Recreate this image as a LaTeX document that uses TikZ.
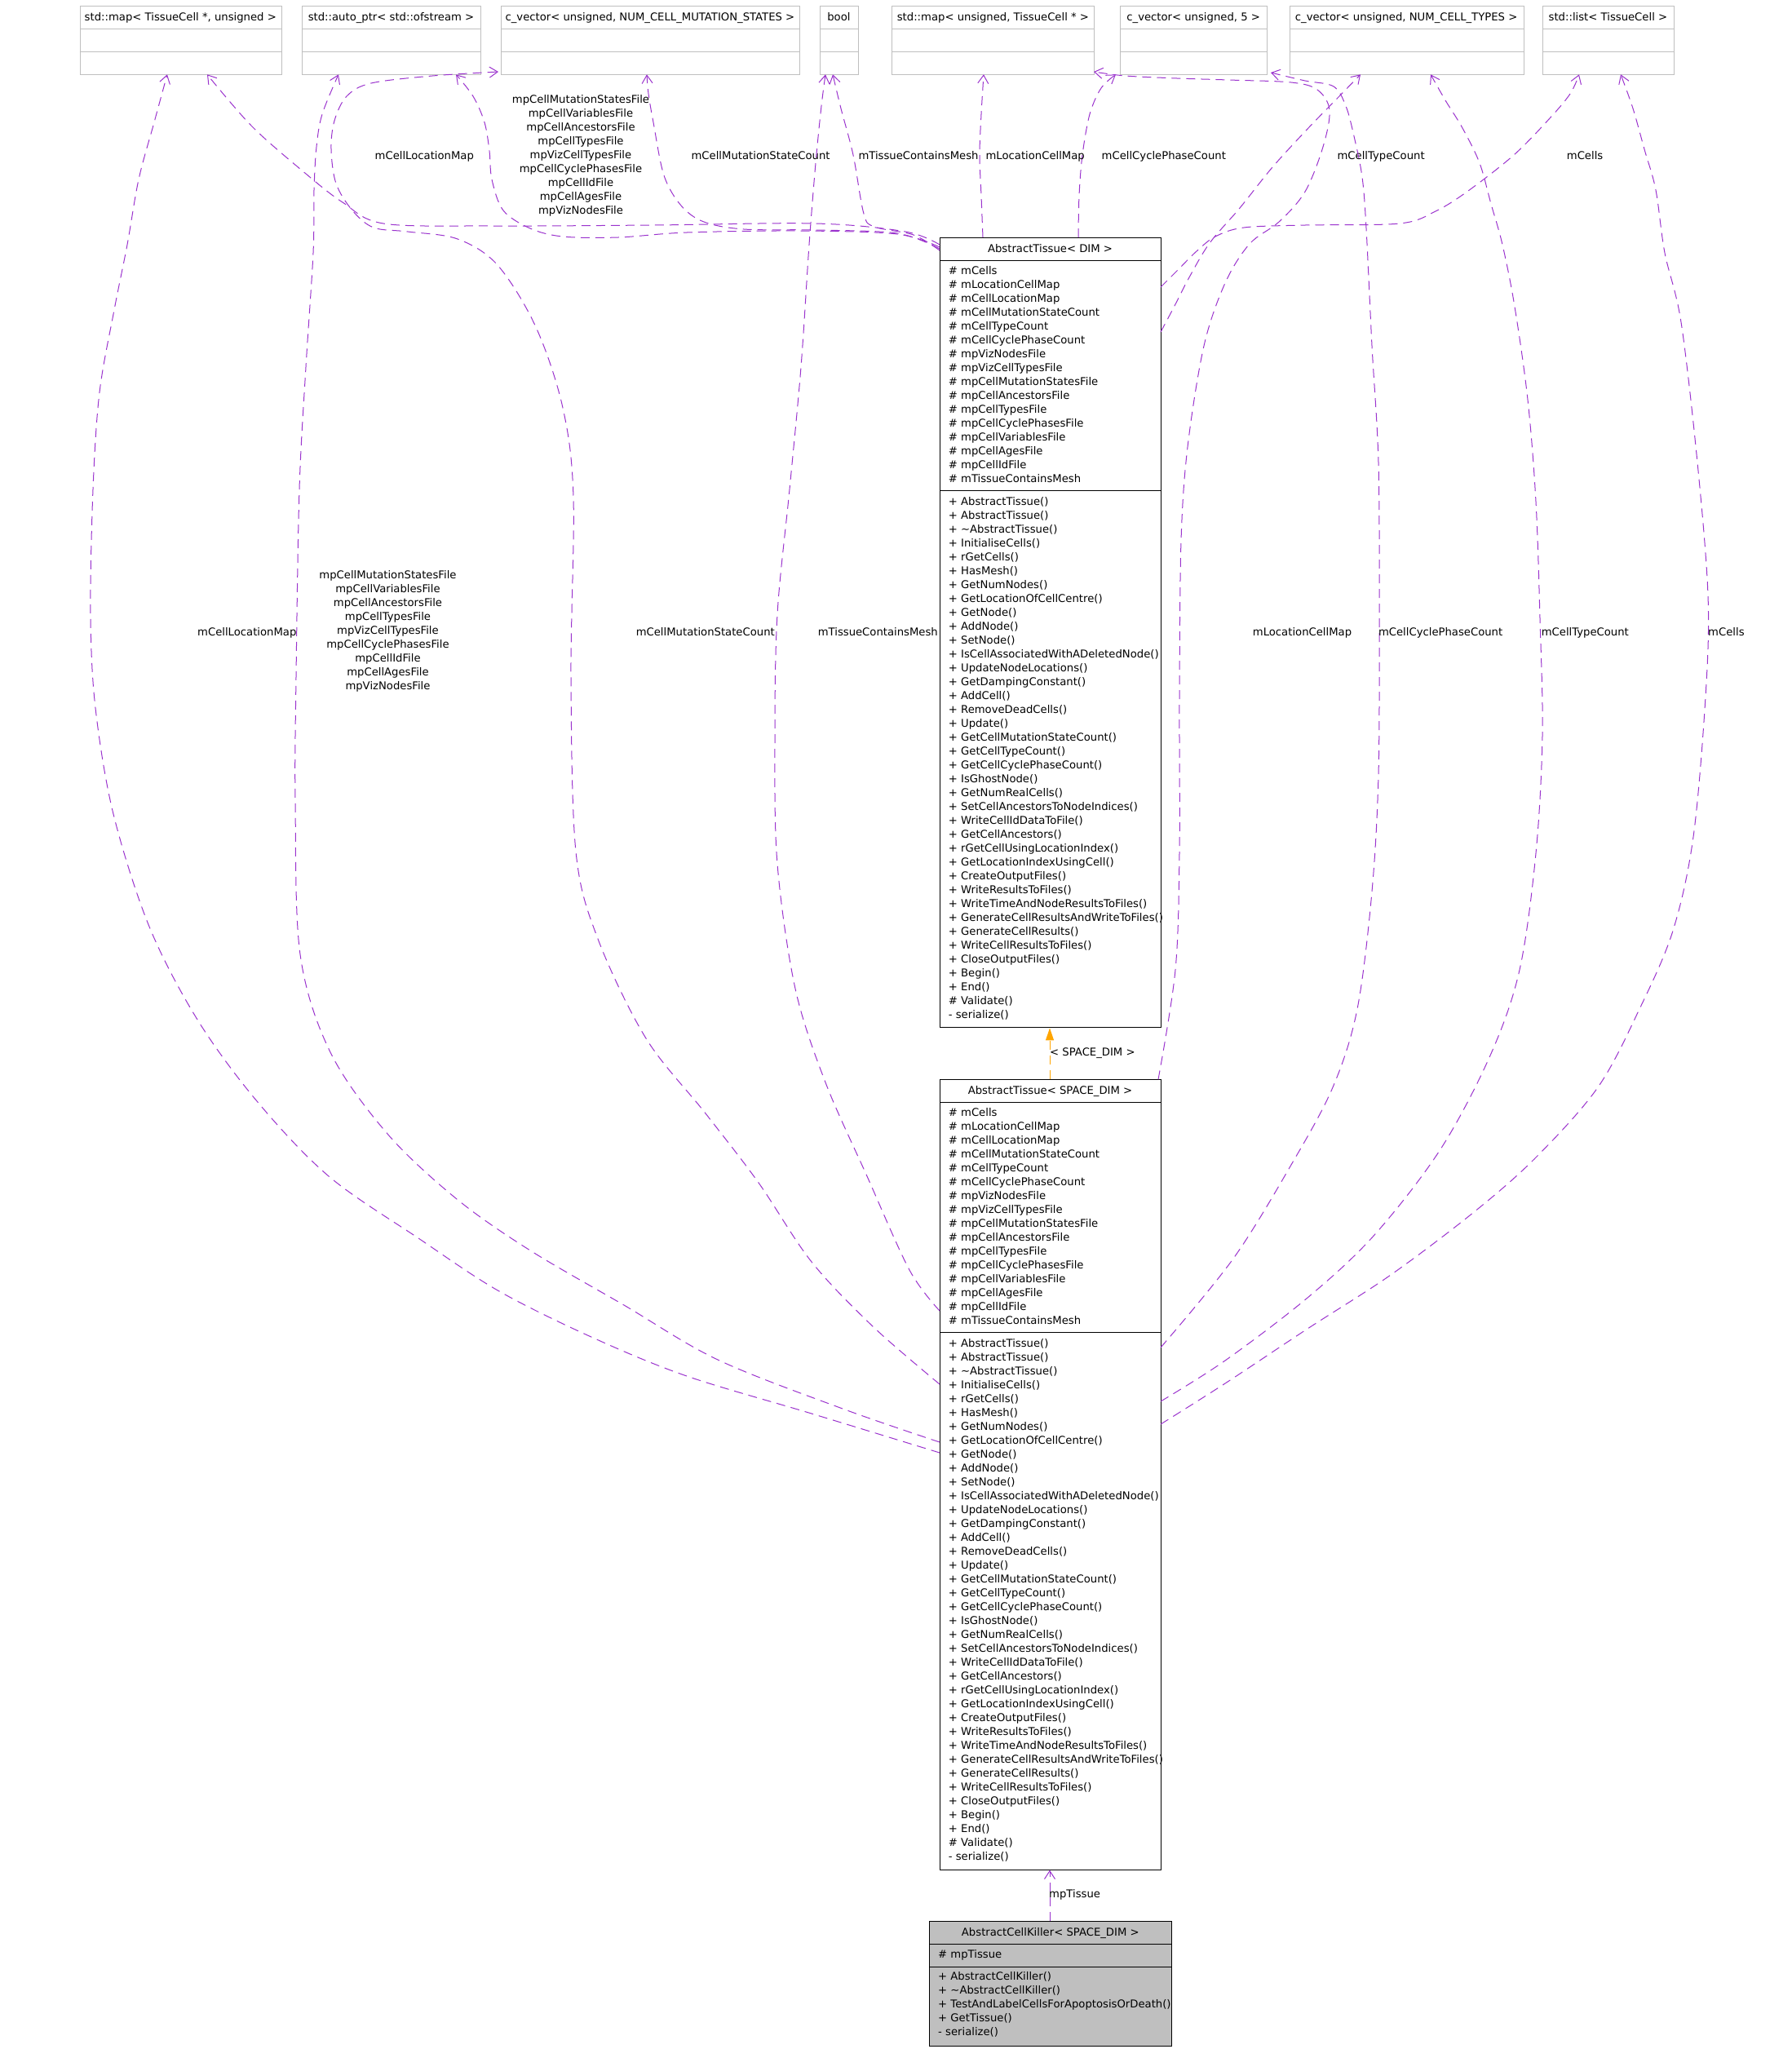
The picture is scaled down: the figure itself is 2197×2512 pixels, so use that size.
\documentclass[tikz,border=0pt]{standalone}
\usepackage{fontspec}
\setmainfont{DejaVu Sans}
\usetikzlibrary{arrows.meta,calc}
\definecolor{edgepurple}{HTML}{9A32CD}
\definecolor{inhorange}{HTML}{FFA500}
\definecolor{boxgray}{HTML}{BFBFBF}
\def\attrlist{\# mCells,\# mLocationCellMap,\# mCellLocationMap,\# mCellMutationStateCount,\# mCellTypeCount,\# mCellCyclePhaseCount,\# mpVizNodesFile,\# mpVizCellTypesFile,\# mpCellMutationStatesFile,\# mpCellAncestorsFile,\# mpCellTypesFile,\# mpCellCyclePhasesFile,\# mpCellVariablesFile,\# mpCellAgesFile,\# mpCellIdFile,\# mTissueContainsMesh}
\def\methlist{+ AbstractTissue(),+ AbstractTissue(),+ \textasciitilde AbstractTissue(),+ InitialiseCells(),+ rGetCells(),+ HasMesh(),+ GetNumNodes(),+ GetLocationOfCellCentre(),+ GetNode(),+ AddNode(),+ SetNode(),+ IsCellAssociatedWithADeletedNode(),+ UpdateNodeLocations(),+ GetDampingConstant(),+ AddCell(),+ RemoveDeadCells(),+ Update(),+ GetCellMutationStateCount(),+ GetCellTypeCount(),+ GetCellCyclePhaseCount(),+ IsGhostNode(),+ GetNumRealCells(),+ SetCellAncestorsToNodeIndices(),+ WriteCellIdDataToFile(),+ GetCellAncestors(),+ rGetCellUsingLocationIndex(),+ GetLocationIndexUsingCell(),+ CreateOutputFiles(),+ WriteResultsToFiles(),+ WriteTimeAndNodeResultsToFiles(),+ GenerateCellResultsAndWriteToFiles(),+ GenerateCellResults(),+ WriteCellResultsToFiles(),+ CloseOutputFiles(),+ Begin(),+ End(),\# Validate(),- serialize()}
\def\filelist{mpCellMutationStatesFile,mpCellVariablesFile,mpCellAncestorsFile,mpCellTypesFile,mpVizCellTypesFile,mpCellCyclePhasesFile,mpCellIdFile,mpCellAgesFile,mpVizNodesFile}
\begin{document}
\begin{tikzpicture}[x=1pt,y=-1pt,
  txt/.style={font=\fontsize{13.2}{17}\selectfont, inner sep=0pt, anchor=base west},
  ctxt/.style={font=\fontsize{13.2}{17}\selectfont, inner sep=0pt, anchor=base},
  extbox/.style={draw=boxgray, line width=1pt, inner sep=0pt, anchor=north west},
  clsbox/.style={draw=black, line width=1.1pt, inner sep=0pt, anchor=north west},
  divline/.style={line width=1.1pt},
  rel/.style={draw=edgepurple, line width=1pt, dash pattern=on 11pt off 7pt, -{Straight Barb[length=10pt,width=13pt]}},
  inh/.style={draw=inhorange, line width=1pt, dash pattern=on 11pt off 7pt, -{Triangle[length=15pt,width=10pt]}},
  sm/.style={smooth, tension=0.55}
]
\useasboundingbox (0,0) rectangle (2197,2512);

% ---------- top (external) boxes ----------
\foreach \n/\xl/\xr/\t in {
 t1/97.5/345.1/{std::map< TissueCell *, unsigned >},
 t2/369.7/589.3/{std::auto\_ptr< std::ofstream >},
 t3/613.8/980.0/{c\_vector< unsigned, NUM\_CELL\_MUTATION\_STATES >},
 t4/1004.6/1052.3/{bool},
 t5/1093.4/1341.4/{std::map< unsigned, TissueCell * >},
 t6/1372.9/1553.4/{c\_vector< unsigned, 5 >},
 t7/1580.7/1867.5/{c\_vector< unsigned, NUM\_CELL\_TYPES >},
 t8/1891.3/2051.5/{std::list< TissueCell >}}
{
  \node[extbox, minimum width={\xr-\xl}, minimum height=84] (\n) at (\xl,7.3) {};
  \draw[boxgray, line width=1pt] (\xl,35.3) -- (\xr,35.3);
  \draw[boxgray, line width=1pt] (\xl,63.3) -- (\xr,63.3);
  \node[ctxt] (\n t) at ({(\xl+\xr)/2},25.5) {\t};
}

% ---------- AbstractTissue< DIM > ----------
\node[clsbox, minimum width=271, minimum height=968.3] (dim) at (1152,291) {};
\draw[divline] (1152,319.3) -- (1423,319.3);
\draw[divline] (1152,601.3) -- (1423,601.3);
\node[ctxt] (dimt) at (1287.5,309.3) {AbstractTissue< DIM >};
\foreach \t [count=\i] in \attrlist
  \node[txt] (dima\i) at (1162.7,{336+(\i-1)*17}) {\t};
\foreach \t [count=\i] in \methlist
  \node[txt] (dimm\i) at (1162.7,{619.3+(\i-1)*17}) {\t};

% ---------- AbstractTissue< SPACE_DIM > ----------
\node[clsbox, minimum width=271, minimum height=968.3] (sd) at (1152,1323.3) {};
\draw[divline] (1152,1351.6) -- (1423,1351.6);
\draw[divline] (1152,1633.6) -- (1423,1633.6);
\node[ctxt] (sdt) at (1287.5,1341.6) {AbstractTissue< SPACE\_DIM >};
\foreach \t [count=\i] in \attrlist
  \node[txt] (sda\i) at (1162.7,{1368.3+(\i-1)*17}) {\t};
\foreach \t [count=\i] in \methlist
  \node[txt] (sdm\i) at (1162.7,{1651.6+(\i-1)*17}) {\t};

% ---------- AbstractCellKiller< SPACE_DIM > ----------
\node[clsbox, fill=boxgray, minimum width=297, minimum height=152.4] (killer) at (1139.3,2355.3) {};
\draw[divline] (1139.3,2383.3) -- (1436.3,2383.3);
\draw[divline] (1139.3,2411.3) -- (1436.3,2411.3);
\node[ctxt] (killert) at (1287.8,2373.3) {AbstractCellKiller< SPACE\_DIM >};
\node[txt] (killera1) at (1150,2400.7) {\# mpTissue};
\foreach \t [count=\i] in {+ AbstractCellKiller(),+ \textasciitilde AbstractCellKiller(),+ TestAndLabelCellsForApoptosisOrDeath(),+ GetTissue(),- serialize()}
  \node[txt] (killerm\i) at (1150,{2427.5+(\i-1)*16.9}) {\t};

% ---------- inheritance and mpTissue ----------
\draw[inh] (sd.north -| 1287,0) -- (dim.south -| 1287,0);
\node[txt] (lspace) at (1287,1294.5) {< SPACE\_DIM >};
\draw[rel] (killer.north -| 1287,0) -- (sd.south -| 1287,0);
\node[txt] (lmptissue) at (1286,2326) {mpTissue};

% ---------- DIM edges ----------
\draw[rel] plot[sm] coordinates {(1152,300) (1110,284) (1000,274) (800,276) (600,277) (470,274) (420,248) (375,213) (309,155) (254,91.3)};
\draw[rel] plot[sm] coordinates {(1152,303) (1100,287) (982,283) (842,285) (758,291) (690,290) (650,280) (617,258) (603,220) (600,185) (594,150) (580,118) (559,91.3)};
\draw[rel] plot[sm] coordinates {(1152,305) (1100,286) (1000,282) (912,281) (863,272) (835,252) (814,215) (801,150) (795,115) (793,91.3)};
\draw[rel] plot[sm] coordinates {(1152,307) (1120,288) (1072,278) (1059,262) (1046,190) (1031,133) (1021,91.3)};
\draw[rel] plot[sm] coordinates {(1205,291) (1203,240) (1201,190) (1203,140) (1206,91.3)};
\draw[rel] plot[sm] coordinates {(1322,291) (1323,240) (1327,190) (1336,140) (1350,108) (1368,91.3)};
\draw[rel] plot[sm] coordinates {(1423,407) (1440,375) (1458,340) (1483,298) (1520,255) (1560,205) (1604,157) (1640,120) (1668,91.3)};
\draw[rel] plot[sm] coordinates {(1423,352) (1445,330) (1467,308) (1490,290) (1525,279) (1600,276) (1716,274) (1760,259) (1800,234) (1856,190) (1900,145) (1925,115) (1936,91.3)};

\node[txt] (l1) at (459.5,195) {mCellLocationMap};
\foreach \t [count=\i] in \filelist
  \node[ctxt] (l2n\i) at (712,{126.7+(\i-1)*17}) {\t};
\node[txt] (l3) at (847.4,195) {mCellMutationStateCount};
\node[txt] (l4) at (1052.3,195) {mTissueContainsMesh};
\node[txt] (l5) at (1208.4,195) {mLocationCellMap};
\node[txt] (l6) at (1350.5,195) {mCellCyclePhaseCount};
\node[txt] (l7) at (1639.4,195) {mCellTypeCount};
\node[txt] (l8) at (1920.7,195) {mCells};

% ---------- SPACE_DIM edges ----------
\draw[rel] plot[sm] coordinates {(1152,1781) (995,1733) (842,1687) (727,1640) (612,1583) (513,1518) (403,1442) (315,1350) (242,1250) (183,1136) (139,998) (117,868) (111,753) (114,600) (122,481) (140,380) (156,300) (170,220) (189,150) (205,91.3)};
\draw[rel] plot[sm] coordinates {(1152,1768) (1033,1727) (880,1667) (765,1600) (650,1533) (560,1470) (475,1390) (405,1290) (368,1170) (362,983) (363,830) (367,600) (375,450) (384,310) (385,233) (388,180) (395,140) (415,91.3)};
\draw[rel] plot[sm] coordinates {(1152,1697) (1071,1627) (995,1547) (930,1450) (865,1365) (792,1273) (733,1151) (706,1044) (700,830) (703,610) (690,500) (657,401) (610,325) (561,293) (500,284) (458,279) (432,258) (412,225) (406,183) (410,148) (425,118) (455,102) (530,93) (611,88)};
\draw[rel] plot[sm] coordinates {(1152,1607) (1115,1557) (1063,1442) (1012,1327) (975,1212) (953,1059) (950,906) (953,753) (968,600) (982,450) (992,300) (1000,200) (1007,130) (1012,91.3)};
\draw[rel] plot[sm] coordinates {(1420,1323.3) (1441,1189) (1446,1046) (1446,854) (1448,663) (1456,548) (1476,424) (1502,347) (1532,299) (1568,272) (1600,235) (1622,180) (1630,135) (1615,110) (1583,101) (1506,98) (1443,96) (1380,93) (1341,88)};
\draw[rel] plot[sm] coordinates {(1423,1652) (1512,1543) (1583,1428) (1634,1333) (1664,1237) (1682,1093) (1690,950) (1691,758) (1690,567) (1682,424) (1675,280) (1670,217) (1660,167) (1650,130) (1635,106) (1600,99) (1558,89)};
\draw[rel] plot[sm] coordinates {(1423,1718) (1502,1668) (1603,1591) (1685,1514) (1766,1409) (1827,1294) (1863,1189) (1883,1046) (1891,902) (1888,758) (1883,615) (1873,490) (1857,376) (1842,300) (1828,250) (1814,200) (1793,157) (1772,123) (1754,91.3)};
\draw[rel] plot[sm] coordinates {(1423,1746) (1502,1696) (1603,1629) (1705,1563) (1807,1486) (1883,1419) (1959,1333) (2010,1237) (2051,1141) (2076,1026) (2091,854) (2094,730) (2081,567) (2061,395) (2041,310) (2030,233) (2016,183) (2002,133) (1987,91.3)};

\node[txt] (s1) at (242,779) {mCellLocationMap};
\foreach \t [count=\i] in \filelist
  \node[ctxt] (s2n\i) at (475.5,{709.8+(\i-1)*17}) {\t};
\node[txt] (s3) at (779.6,779) {mCellMutationStateCount};
\node[txt] (s4) at (1002.6,779) {mTissueContainsMesh};
\node[txt] (s5) at (1535.7,779) {mLocationCellMap};
\node[txt] (s6) at (1689.8,779) {mCellCyclePhaseCount};
\node[txt] (s7) at (1889.6,779) {mCellTypeCount};
\node[txt] (s8) at (2094,779) {mCells};
\end{tikzpicture}
\end{document}
